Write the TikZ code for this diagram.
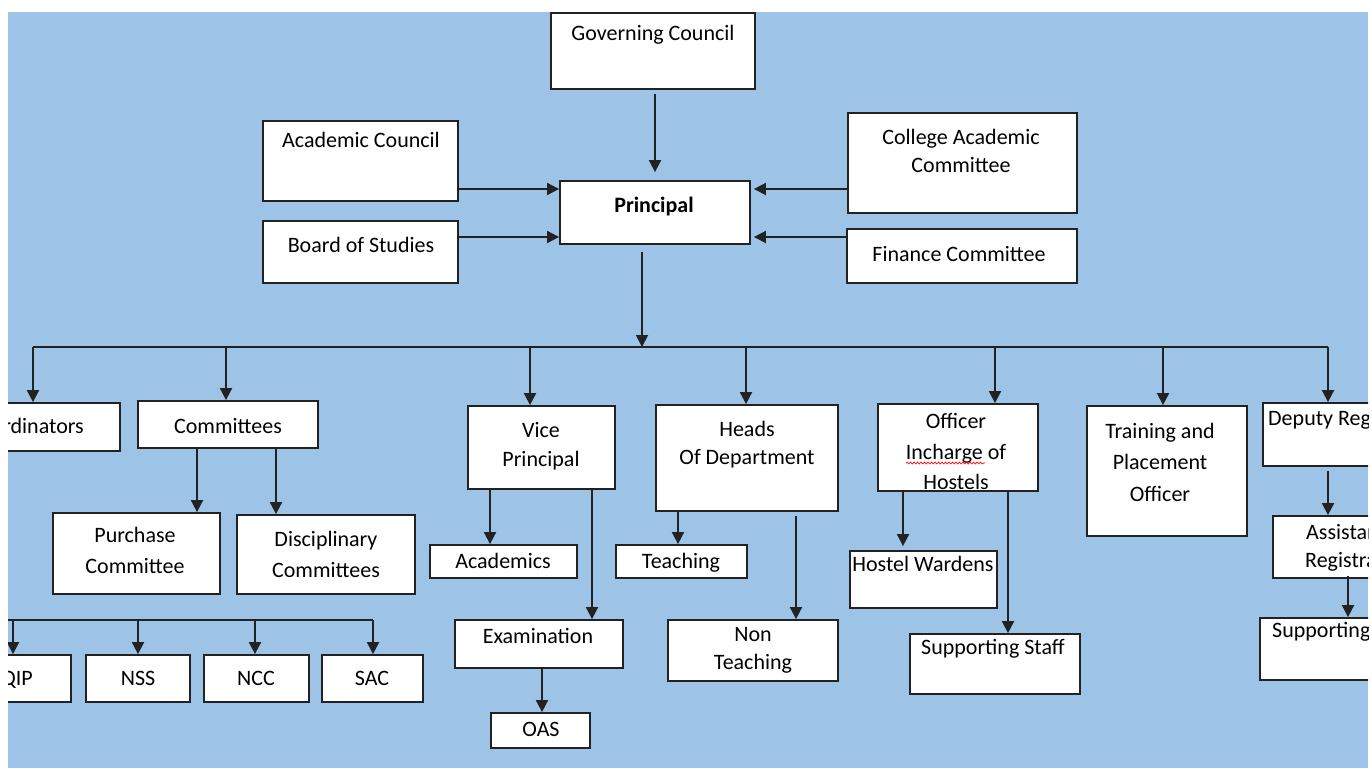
\documentclass[tikz,border=0pt]{standalone}
\usepackage{fontspec}
\setmainfont{Carlito}
\usetikzlibrary{arrows.meta,decorations.pathmorphing}
\definecolor{bgblue}{HTML}{9DC3E6}
\definecolor{edge}{HTML}{222222}
\tikzset{
  box/.style={draw=edge, line width=1.8pt, fill=white, inner sep=0pt},
  txt/.style={anchor=base, inner sep=0pt, font=\fontsize{22}{26}\selectfont, text=black},
  txtw/.style={txt, anchor=base west},
  txte/.style={txt, anchor=base east},
  arr/.style={draw=edge, line width=1.8pt, -{Triangle[length=12pt,width=12pt]}},
  ln/.style={draw=edge, line width=1.8pt},
}
\newcommand\bx[5]{\node[box, minimum width={(#4-#2)*1pt}, minimum height={(#5-#3)*1pt}] (#1) at ({(#2+#4)/2},{(#3+#5)/2}) {};}
\begin{document}
\begin{tikzpicture}[x=1pt,y=-1pt]
\useasboundingbox (0,0) rectangle (1372,768);
\fill[white] (0,0) rectangle (1372,768);
\begin{scope}
\clip (8,12) rectangle (1368,768);
\fill[bgblue] (8,12) rectangle (1368,768);

% top section
\bx{gc}{551}{13}{755}{89}
\bx{ac}{263}{121}{458}{201}
\bx{bs}{263}{221}{458}{283}
\bx{pr}{560}{181}{750}{244}
\bx{ca}{848}{113}{1077}{213}
\bx{fc}{847}{229}{1077}{283}
\node[txt] (gct) at (653,41) {Governing Council};
\node[txt] (act) at (361,147) {Academic Council};
\node[txt] (bst) at (361,252) {Board of Studies};
\node[txt, font=\fontsize{22}{26}\selectfont\bfseries] (prt) at (654,212) {Principal};
\node[txt] (cat1) at (961,144) {College Academic};
\node[txt] (cat2) at (961,172) {Committee};
\node[txt] (fct) at (959,261) {Finance Committee};

\coordinate (pa) at (655,0);
\draw[arr, shorten <=4pt, shorten >=8pt] (pa |- gc.south) -- (pa |- pr.north);
\coordinate (ya) at (0,189);
\coordinate (yb) at (0,237);
\draw[arr] (ac.east |- ya) -- (pr.west |- ya);
\draw[arr] (bs.east |- yb) -- (pr.west |- yb);
\draw[arr, shorten >=3pt] (ca.west |- ya) -- (pr.east |- ya);
\draw[arr, shorten >=3pt] (fc.west |- yb) -- (pr.east |- yb);

% second level
\bx{co}{-65}{403}{120}{451}
\bx{cm}{138}{401}{318}{448}
\bx{vp}{468}{406}{615}{489}
\bx{hd}{656}{405}{838}{511}
\bx{oh}{878}{404}{1038}{491}
\bx{tp}{1087}{406}{1247}{536}
\bx{dr}{1263}{403}{1425}{466}
\node[txte] (cot) at (84,433) {Coordinators};
\node[txt] (cmt) at (228,433) {Committees};
\node[txt] (vpt1) at (541,437) {Vice};
\node[txt] (vpt2) at (541,466) {Principal};
\node[txt] (hdt1) at (747,436) {Heads};
\node[txt] (hdt2) at (747,464) {Of Department};
\node[txt] (oht1) at (956,428) {Officer};
\node[txt] (oht2) at (956,459) {Incharge of};
\node[txt] (oht3) at (956,489) {Hostels};
\node[txt] (tpt1) at (1160,438) {Training and};
\node[txt] (tpt2) at (1160,469) {Placement};
\node[txt] (tpt3) at (1160,501) {Officer};
\node[txtw] (drt) at (1268,425) {Deputy Registrar};
\draw[red, line width=0.7pt, decorate, decoration={snake, amplitude=0.9pt, segment length=3.5pt}] (906,463) -- (985,463);

% bus from principal
\coordinate (bus) at (642,347);
\coordinate (bco) at (33,347);
\coordinate (bcm) at (226,347);
\coordinate (bvp) at (530,347);
\coordinate (bhd) at (746,347);
\coordinate (boh) at (995,347);
\coordinate (btp) at (1163,347);
\coordinate (bdr) at (1328,347);
\draw[arr, shorten <=7pt] (pr.south -| bus) -- (bus);
\draw[ln] (bco) -- (bdr);
\foreach \b/\n in {bco/co,bcm/cm,bvp/vp,bhd/hd,boh/oh,btp/tp,bdr/dr}
  \draw[arr] (\b) -- (\b |- \n.north);

% committees branch
\bx{pc}{53}{513}{220}{594}
\bx{dc}{237}{515}{415}{594}
\node[txt] (pct1) at (135,542) {Purchase};
\node[txt] (pct2) at (135,573) {Committee};
\node[txt] (dct1) at (326,546) {Disciplinary};
\node[txt] (dct2) at (326,577) {Committees};
\coordinate (k1) at (197,0);
\coordinate (k2) at (276,0);
\draw[arr] (k1 |- cm.south) -- (k1 |- pc.north);
\draw[arr] (k2 |- cm.south) -- (k2 |- dc.north);

\bx{qip}{-33}{655}{71}{702}
\bx{nss}{86}{655}{190}{702}
\bx{ncc}{204}{655}{309}{702}
\bx{sac}{322}{655}{423}{702}
\node[txte] (qipt) at (33,685) {QIP};
\node[txt] (nsst) at (138,685) {NSS};
\node[txt] (ncct) at (256,685) {NCC};
\node[txt] (sact) at (372,685) {SAC};
\coordinate (c0) at (-20,620);
\coordinate (c1) at (13,620);
\coordinate (c2) at (138,620);
\coordinate (c3) at (255,620);
\coordinate (c4) at (373,620);
\draw[ln] (c0) -- (c4);
\foreach \b/\n in {c1/qip,c2/nss,c3/ncc,c4/sac}
  \draw[arr] (\b) -- (\b |- \n.north);

% vice principal branch
\bx{acad}{430}{545}{577}{578}
\bx{exam}{455}{620}{623}{668}
\bx{oas}{491}{713}{590}{748}
\node[txt] (acadt) at (503,568) {Academics};
\node[txt] (examt) at (538,643) {Examination};
\node[txt] (oast) at (541,736) {OAS};
\coordinate (v1) at (490,0);
\coordinate (v2) at (592,0);
\coordinate (v3) at (542,0);
\draw[arr] (v1 |- vp.south) -- (v1 |- acad.north);
\draw[arr] (v2 |- vp.south) -- (v2 |- exam.north);
\draw[arr] (v3 |- exam.south) -- (v3 |- oas.north);

% heads branch
\bx{teach}{616}{545}{747}{578}
\bx{nt}{668}{620}{838}{681}
\node[txt] (teacht) at (681,568) {Teaching};
\node[txt] (ntt1) at (753,641) {Non};
\node[txt] (ntt2) at (753,669) {Teaching};
\coordinate (h1) at (678,0);
\coordinate (h2) at (796,0);
\draw[arr] (h1 |- hd.south) -- (h1 |- teach.north);
\draw[arr, shorten <=4pt] (h2 |- hd.south) -- (h2 |- nt.north);

% hostels branch
\bx{hw}{850}{551}{997}{608}
\bx{ss}{910}{634}{1080}{694}
\node[txt] (hwt) at (923,571) {Hostel Wardens};
\node[txt] (sst) at (993,654) {Supporting Staff};
\coordinate (o1) at (903,0);
\coordinate (o2) at (1008,0);
\draw[arr, shorten >=4pt] (o1 |- oh.south) -- (o1 |- hw.north);
\draw[arr] (o2 |- oh.south) -- (o2 |- ss.north);

% registrar branch
\bx{ar}{1273}{516}{1425}{578}
\bx{ssb}{1260}{618}{1430}{680}
\node[txtw] (art1) at (1306,539) {Assistant};
\node[txtw] (art2) at (1305,567) {Registrar};
\node[txtw] (ssbt) at (1272,637) {Supporting Staff};
\coordinate (r1) at (1328,0);
\coordinate (r2) at (1348,0);
\draw[arr, shorten <=4pt] (r1 |- dr.south) -- (r1 |- ar.north);
\draw[arr, shorten <=-3pt] (r2 |- ar.south) -- (r2 |- ssb.north);
\end{scope}
\end{tikzpicture}
\end{document}
